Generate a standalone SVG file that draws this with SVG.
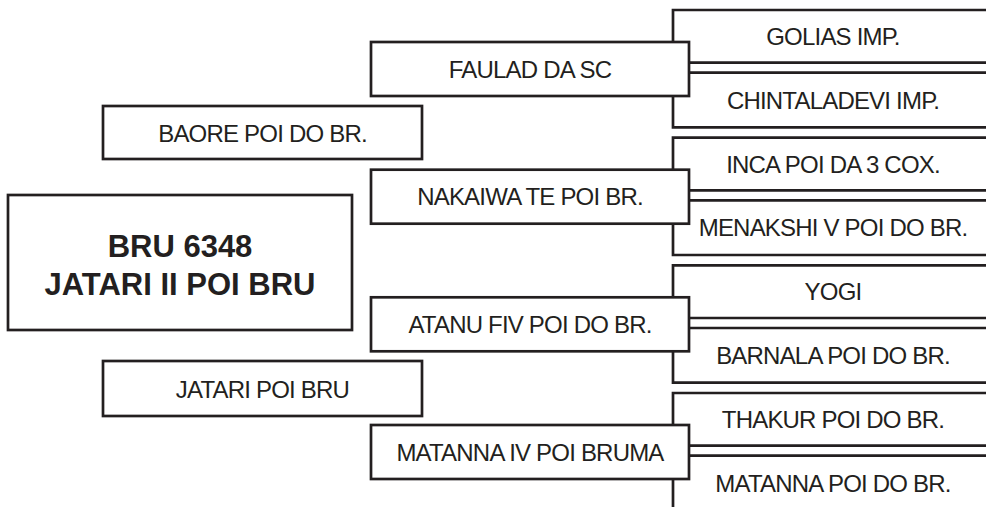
<svg xmlns="http://www.w3.org/2000/svg" width="986" height="507" viewBox="0 0 986 507">
<style>
.box{fill:#fff;stroke:#231f20;stroke-width:2.7}
.open{fill:#fff;stroke:#231f20;stroke-width:2.7}
.t{font-family:"Liberation Sans",Arial,sans-serif;font-size:24px;letter-spacing:-0.8px;fill:#231f20;text-anchor:middle}
.tb{font-family:"Liberation Sans",Arial,sans-serif;font-size:31px;font-weight:bold;fill:#231f20;text-anchor:middle}
</style>
<rect width="986" height="507" fill="#fff"/>
<g id="connectors"></g>
<g id="golias"><path class="open" d="M995 10H673V62.7H995"/><text class="t" x="833" y="45">GOLIAS IMP.</text></g>
<g id="chintaladevi"><path class="open" d="M995 72.7H673V127.3H995"/><text class="t" x="833" y="108.5">CHINTALADEVI IMP.</text></g>
<g id="inca"><path class="open" d="M995 137.7H673V190.4H995"/><text class="t" x="833" y="172.7">INCA POI DA 3 COX.</text></g>
<g id="menakshi"><path class="open" d="M995 200.4H673V255H995"/><text class="t" x="833" y="236.2">MENAKSHI V POI DO BR.</text></g>
<g id="yogi"><path class="open" d="M995 265.3H673V318H995"/><text class="t" x="833" y="300.3">YOGI</text></g>
<g id="barnala"><path class="open" d="M995 328H673V382.7H995"/><text class="t" x="833" y="363.8">BARNALA POI DO BR.</text></g>
<g id="thakur"><path class="open" d="M995 393H673V445.7H995"/><text class="t" x="833" y="428">THAKUR POI DO BR.</text></g>
<g id="matanna"><path class="open" d="M995 455.7H673V520H995"/><text class="t" x="833" y="491.5">MATANNA POI DO BR.</text></g>
<g id="faulad"><rect class="box" x="371" y="42" width="318" height="54"/><text class="t" x="530" y="77.7">FAULAD DA SC</text></g>
<g id="nakaiwa"><rect class="box" x="371" y="169.7" width="318" height="54"/><text class="t" x="530" y="205.4">NAKAIWA TE POI BR.</text></g>
<g id="atanu"><rect class="box" x="371" y="297.3" width="318" height="54"/><text class="t" x="530" y="333">ATANU FIV POI DO BR.</text></g>
<g id="matanna-iv"><rect class="box" x="371" y="425" width="318" height="54"/><text class="t" x="530" y="460.7">MATANNA IV POI BRUMA</text></g>
<g id="baore"><rect class="box" x="103" y="106" width="319" height="53"/><text class="t" x="262.5" y="142.3">BAORE POI DO BR.</text></g>
<g id="jatari"><rect class="box" x="103" y="361" width="319" height="55"/><text class="t" x="262.5" y="398">JATARI POI BRU</text></g>
<g id="main"><rect class="box" x="8" y="195" width="344" height="135"/><text class="tb" x="180" y="256.7">BRU 6348</text><text class="tb" x="180" y="295">JATARI II POI BRU</text></g>
</svg>
